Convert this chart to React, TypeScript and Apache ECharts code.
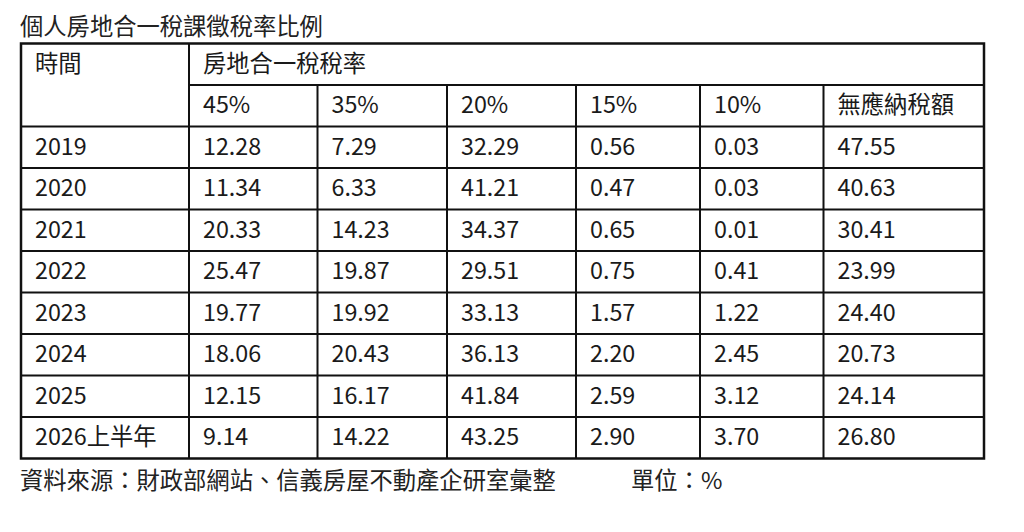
import React, { useEffect, useRef } from "react";
import * as echarts from "echarts";

const titleText = "個人房地合一稅課徵稅率比例";
const timeHeader = "時間";
const groupHeader = "房地合一稅稅率";
const rateHeaders = ["45%", "35%", "20%", "15%", "10%", "無應納稅額"];
const years = ["2019", "2020", "2021", "2022", "2023", "2024", "2025", "2026上半年"];
const rate45 = [12.28, 11.34, 20.33, 25.47, 19.77, 18.06, 12.15, 9.14];
const rate35 = [7.29, 6.33, 14.23, 19.87, 19.92, 20.43, 16.17, 14.22];
const rate20 = [32.29, 41.21, 34.37, 29.51, 33.13, 36.13, 41.84, 43.25];
const rate15 = [0.56, 0.47, 0.65, 0.75, 1.57, 2.2, 2.59, 2.9];
const rate10 = [0.03, 0.03, 0.01, 0.41, 1.22, 2.45, 3.12, 3.7];
const noTax = [47.55, 40.63, 30.41, 23.99, 24.4, 20.73, 24.14, 26.8];
const sourceText = "資料來源：財政部網站、信義房屋不動產企研室彙整";
const unitText = "單位：%";

const FONT = '"Noto Sans CJK TC", "Noto Sans CJK SC", "Noto Sans", sans-serif';

export default function App() {
  const ref = useRef<HTMLDivElement>(null);
  useEffect(() => {
    document.body.style.margin = "0";
    if (!ref.current) return;
    const chart = echarts.init(ref.current, undefined, { renderer: "svg" });

    const colX = [21, 189, 317.5, 447, 576, 700, 823.5, 984];
    const top = 43.5;
    const rowH = 41.5;
    const rowY = (i: number) => top + i * rowH;
    const bottom = rowY(10);
    const stroke = "#111";
    const lw = 2;
    const fs = 23.3;
    const color = "#1a1a1a";
    const pad = 14;

    const elements: any[] = [];
    const text = (x: number, y: number, t: string, extra: any = {}) => ({
      type: "text",
      x,
      y,
      style: {
        text: t,
        fill: color,
        font: `${fs}px ${FONT}`,
        fontSize: fs,
        fontFamily: FONT,
        textAlign: "left",
        textVerticalAlign: "middle",
        ...extra,
      },
    });
    const line = (x1: number, y1: number, x2: number, y2: number, w = lw) => ({
      type: "line",
      shape: { x1, y1, x2, y2 },
      style: { stroke, lineWidth: w },
    });

    // title
    elements.push(text(20, 24.5, titleText, { fill: "#222" }));

    // grid lines
    elements.push(line(colX[1], rowY(1), colX[7], rowY(1)));
    for (let r = 2; r < 10; r++) elements.push(line(colX[0], rowY(r), colX[7], rowY(r)));
    elements.push(line(colX[1], rowY(0), colX[1], bottom));
    for (let c = 2; c < 7; c++) elements.push(line(colX[c], rowY(1), colX[c], bottom));
    elements.push({
      type: "rect",
      shape: { x: colX[0], y: top, width: colX[7] - colX[0], height: bottom - top },
      style: { fill: "none", stroke, lineWidth: 2.5 },
    });

    const mid = (r: number) => rowY(r) + rowH / 2 - 2.3;

    // headers
    elements.push(text(colX[0] + pad, mid(0), timeHeader));
    elements.push(text(colX[1] + pad, mid(0), groupHeader));
    rateHeaders.forEach((h, i) => elements.push(text(colX[i + 1] + pad, mid(1), h)));

    const cols = [rate45, rate35, rate20, rate15, rate10, noTax];
    years.forEach((y, r) => {
      elements.push(text(colX[0] + pad, mid(r + 2), y));
      cols.forEach((arr, c) => {
        elements.push(text(colX[c + 1] + pad, mid(r + 2), arr[r].toFixed(2)));
      });
    });

    // footer
    elements.push(text(20, 479, sourceText, { fill: "#222" }));
    elements.push(text(631, 479, unitText, { fill: "#222" }));

    chart.setOption({
      animation: false,
      backgroundColor: "#fff",
      graphic: { elements },
    });
    return () => chart.dispose();
  }, []);
  return <div ref={ref} style={{ width: 1024, height: 532 }} />;
}
